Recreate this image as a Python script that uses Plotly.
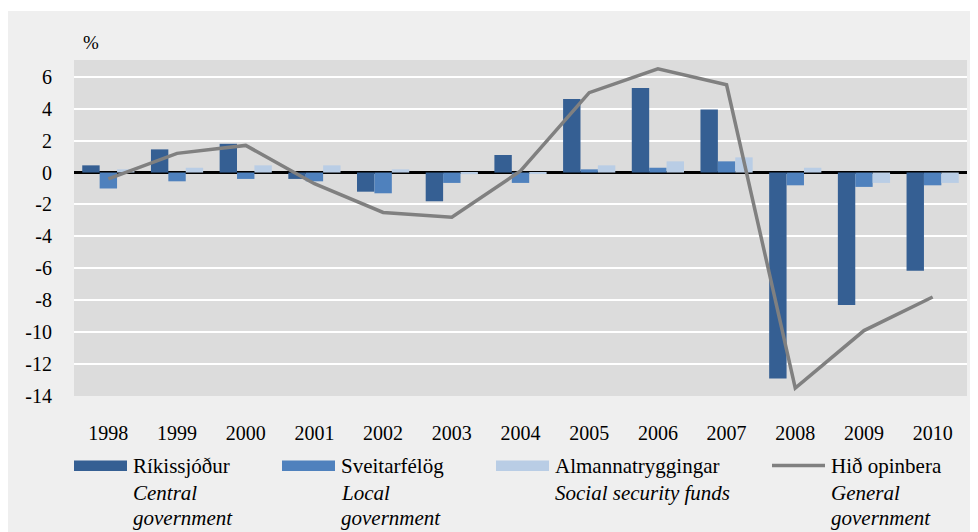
import plotly.graph_objects as go

years = ["1998", "1999", "2000", "2001", "2002", "2003", "2004",
         "2005", "2006", "2007", "2008", "2009", "2010"]
central = [0.45, 1.45, 1.8, -0.4, -1.2, -1.8, 1.1, 4.6, 5.3, 3.95, -12.9, -8.3, -6.15]
local = [-1.0, -0.55, -0.4, -0.55, -1.3, -0.65, -0.65, 0.2, 0.3, 0.7, -0.8, -0.9, -0.8]
social = [0.2, 0.3, 0.45, 0.45, 0.2, -0.1, -0.05, 0.45, 0.7, 0.95, 0.3, -0.65, -0.65]
general = [-0.4, 1.2, 1.7, -0.7, -2.5, -2.8, 0.1, 5.0, 6.5, 5.5, -13.5, -9.9, -7.8]
y_ticks = [-14, -12, -10, -8, -6, -4, -2, 0, 2, 4, 6]
y_tick_labels = ["-14", "-12", "-10", "-8", "-6", "-4", "-2", "0", "2", "4", "6"]

legend_items = [
    ("Ríkissjóður", ["Central", "government"], "#355f93", "bar"),
    ("Sveitarfélög", ["Local", "government"], "#4f81bd", "bar"),
    ("Almannatryggingar", ["Social security funds"], "#b9cde5", "bar"),
    ("Hið opinbera", ["General", "government"], "#808080", "line"),
]

FONT = "Liberation Serif"

fig = go.Figure()
fig.add_bar(x=years, y=central, marker_color="#355f93", marker_line_width=0, showlegend=False)
fig.add_bar(x=years, y=local, marker_color="#4f81bd", marker_line_width=0, showlegend=False)
fig.add_bar(x=years, y=social, marker_color="#b9cde5", marker_line_width=0, showlegend=False)
fig.add_scatter(x=years, y=general, mode="lines", line=dict(color="#808080", width=3.5),
                showlegend=False)

# page has an 8px body margin: figure origin is at page (8, 8)
OFF = 8
FW, FH = 978 - OFF, 532 - OFF
# plot area in page pixels
L, R, T, B = 74, 967, 60, 396
W, H = R - L, B - T


def px(x):
    return (x - L) / W


def py(y):
    return (B - y) / H


shapes = [
    dict(type="rect", xref="paper", yref="paper", x0=px(0), x1=px(990), y0=py(0), y1=py(11),
         fillcolor="white", line_width=0, layer="below"),
]
annotations = [
    dict(text="%", x=px(81), y=py(43), xref="paper", yref="paper", xanchor="left",
         yanchor="middle", showarrow=False, font=dict(family=FONT, size=19, color="black")),
]

sym_x = [74, 282, 496, 772]
txt_x = [131, 339, 553, 829]
line_y = [466, 493, 518]
for i, (name, sub, color, kind) in enumerate(legend_items):
    x0 = sym_x[i]
    if kind == "bar":
        shapes.append(dict(type="rect", xref="paper", yref="paper", x0=px(x0), x1=px(x0 + 53),
                           y0=py(471), y1=py(460.5), fillcolor=color, line_width=0))
    else:
        shapes.append(dict(type="line", xref="paper", yref="paper", x0=px(x0), x1=px(x0 + 53),
                           y0=py(465.5), y1=py(465.5), line=dict(color=color, width=3.5)))
    lines = [name] + ["<i>%s</i>" % s for s in sub]
    for j, t in enumerate(lines):
        annotations.append(dict(text=t, x=px(txt_x[i]), y=py(line_y[j]), xref="paper",
                                yref="paper", xanchor="left", yanchor="middle",
                                showarrow=False,
                                font=dict(family=FONT, size=21, color="black")))

fig.update_layout(
    width=FW, height=FH,
    margin=dict(l=L - OFF, r=978 - R, t=T - OFF, b=532 - B),
    paper_bgcolor="#efefef", plot_bgcolor="#dcdcdc",
    barmode="group", bargap=0.24, bargroupgap=0,
    shapes=shapes, annotations=annotations,
    font=dict(family=FONT, size=20, color="black"),
)
fig.update_xaxes(type="category", showgrid=False, zeroline=False, showline=False,
                 ticks="outside", ticklen=19, tickcolor="rgba(0,0,0,0)",
                 tickfont=dict(family=FONT, size=20, color="black"))
fig.update_yaxes(range=[-14, 7.05], tickvals=y_ticks, ticktext=y_tick_labels,
                 showgrid=True, gridcolor="white",
                 gridwidth=2, zeroline=True, zerolinecolor="black", zerolinewidth=3,
                 showline=False, ticks="outside", ticklen=17, tickcolor="rgba(0,0,0,0)",
                 tickfont=dict(family=FONT, size=20, color="black"))

fig.write_html("out.html")
